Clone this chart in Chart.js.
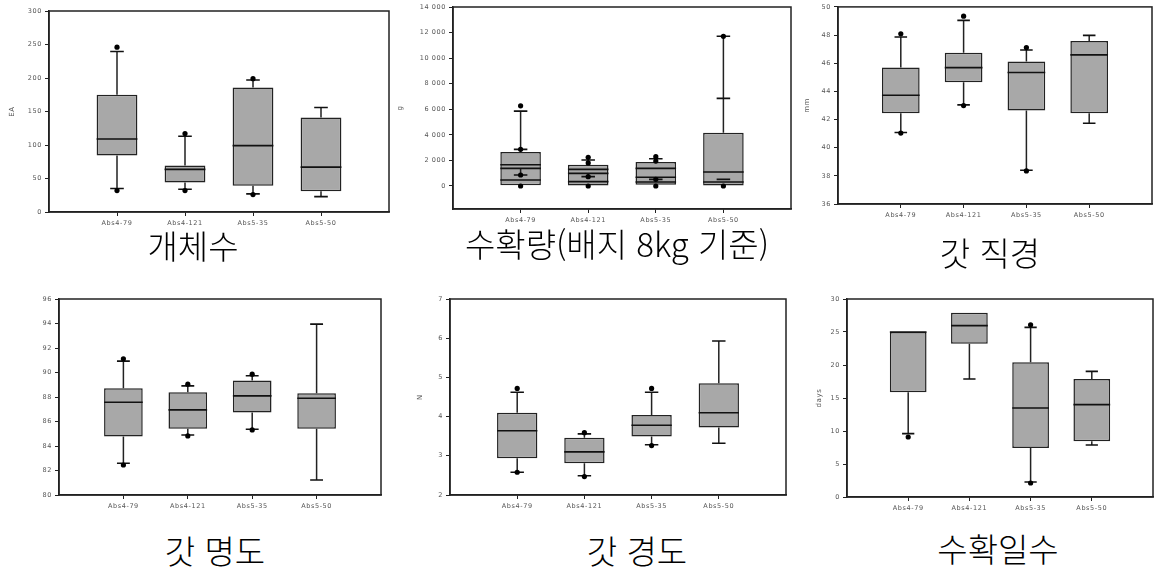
<!DOCTYPE html>
<html lang="ko">
<head>
    <meta charset="UTF-8">
    <title>Box plots</title>
    <script src="https://cdn.jsdelivr.net/npm/chart.js"></script>
    <style>
        body { margin: 0; width: 1157px; height: 567px; background: #fff; position: relative; overflow: hidden; }
        canvas { position: absolute; }
        .title { position: absolute; transform: translate(-50%, -50%); font-family: "Noto Sans CJK KR", sans-serif; font-size: 33px; font-weight: 300; color: #000; white-space: nowrap; }
    </style>
</head>
<body>
    <canvas id="c1" width="395" height="235" style="left:0;top:0"></canvas>
    <canvas id="c2" width="400" height="235" style="left:395px;top:0"></canvas>
    <canvas id="c3" width="359" height="235" style="left:798px;top:0"></canvas>
    <canvas id="c4" width="395" height="240" style="left:0;top:280px"></canvas>
    <canvas id="c5" width="403" height="240" style="left:395px;top:280px"></canvas>
    <canvas id="c6" width="357" height="240" style="left:800px;top:280px"></canvas>
    <div class="title" style="left:193px;top:245px">개체수</div>
    <div class="title" style="left:617px;top:243px">수확량(배지 8kg 기준)</div>
    <div class="title" style="left:990px;top:252px">갓 직경</div>
    <div class="title" style="left:215px;top:550px">갓 명도</div>
    <div class="title" style="left:637px;top:550px">갓 경도</div>
    <div class="title" style="left:998px;top:548px">수확일수</div>
    <script>
        const categories = ['Abs4-79', 'Abs4-121', 'Abs5-35', 'Abs5-50'];

        // 개체수 (EA)
        const countTicks = [0, 50, 100, 150, 200, 250, 300];
        const countQ1 = [84.5, 44, 39, 31];
        const countMedian = [109, 63.6, 99, 67];
        const countQ3 = [175, 69.5, 186, 141];
        const countLow = [35, 34, 27, 23];
        const countHigh = [239.5, 113, 197, 156];
        const countDots = [[246, 32], [117, 32], [199, 26], []];

        // 수확량 (g) - overlapping boxes
        const yieldTicks = [0, 2000, 4000, 6000, 8000, 10000, 12000, 14000];
        const yieldQ1 = [50, 0, 100, 30];
        const yieldQ3 = [2655, 1665, 1875, 4165];
        const yieldLines = [[1665, 1380, 470], [1300, 990, 340], [1380, 680, 310], [1090, 310]];
        const yieldWhiskers = [[[2655, 5856], [1380, 860]], [[1665, 2030], [990, 730]], [[1875, 2130], [680, 520]], [[4165, 11710]]];
        const yieldCaps = [[5856, 2865, 860], [2030, 730], [2130, 520], [6850, 11710, 520]];
        const yieldDots = [[6270, 2865, 860, 0], [2240, 1800, 730, 0], [2290, 1950, 520, 0], [11710, 0]];

        // 갓 직경 (mm)
        const diamTicks = [36, 38, 40, 42, 44, 46, 48, 50];
        const diamQ1 = [42.45, 44.64, 42.64, 42.45];
        const diamMedian = [43.72, 45.69, 45.34, 46.59];
        const diamQ3 = [45.69, 46.75, 46.12, 47.58];
        const diamLow = [41.08, 43.04, 38.4, 41.74];
        const diamHigh = [47.86, 49.04, 46.94, 47.98];
        const diamDots = [[48.09, 41.04], [49.34, 42.99], [47.11, 38.35], []];

        // 갓 명도
        const lightTicks = [80, 82, 84, 86, 88, 90, 92, 94, 96];
        const lightQ1 = [84.77, 85.40, 86.73, 85.40];
        const lightMedian = [87.57, 86.95, 88.09, 87.90];
        const lightQ3 = [88.72, 88.39, 89.35, 88.31];
        const lightLow = [82.59, 84.90, 85.37, 81.23];
        const lightHigh = [90.93, 88.91, 89.73, 93.95];
        const lightDots = [[91.12, 82.45], [89.05, 84.82], [89.86, 85.31], []];

        // 갓 경도 (N)
        const hardTicks = [2, 3, 4, 5, 6, 7];
        const hardQ1 = [2.94, 2.81, 3.49, 3.72];
        const hardMedian = [3.64, 3.10, 3.78, 4.10];
        const hardQ3 = [4.10, 3.46, 4.04, 4.85];
        const hardLow = [2.58, 2.49, 3.28, 3.32];
        const hardHigh = [4.62, 3.56, 4.62, 5.93];
        const hardDots = [[4.72, 2.58], [3.59, 2.47], [4.72, 3.26], []];

        // 수확일수 (days)
        const daysTicks = [0, 5, 10, 15, 20, 25, 30];
        const daysQ1 = [15.86, 23.23, 7.42, 8.43];
        const daysMedian = [25.0, 25.96, 13.48, 13.99];
        const daysQ3 = [25.0, 27.9, 20.4, 17.88];
        const daysLow = [9.6, 17.88, 2.27, 7.88];
        const daysHigh = [null, null, 25.7, 19.04];
        const daysDots = [[9.09], [], [26.1, 2.12], []];

        const BOX_HALF = 0.3;   // half box width in category units
        const CAP_HALF = 0.1;   // half cap width

        function simpleBox(q1, median, q3, low, high, dots) {
            return {
                q1, q3, dots,
                lines: median.map(m => [m]),
                whiskers: q1.map((v, i) => [[v, low[i]], [q3[i], high[i]]].filter(w => w[1] != null)),
                caps: low.map((v, i) => [v, high[i]].filter(c => c != null))
            };
        }

        // draws the closed frame round the plot area
        const framePlugin = {
            id: 'frame',
            beforeDraw(chart) { chart.ctx.letterSpacing = '0.6px'; },
            afterDraw(chart) {
                const { ctx, chartArea: a } = chart;
                ctx.save();
                ctx.strokeStyle = '#222';
                ctx.lineWidth = 1.5;
                ctx.strokeRect(a.left, a.top, a.right - a.left, a.bottom - a.top);
                ctx.restore();
            }
        };

        function makeBoxChart(id, box, o) {
            const segs = [], marks = [], dots = [];
            box.q1.forEach((v, i) => {
                const x = i + 1;
                box.whiskers[i].forEach(([a, b]) => segs.push({ x, y: a }, { x, y: b }, { x, y: null }));
                box.lines[i].forEach(m => marks.push({ x: x - BOX_HALF, y: m }, { x: x + BOX_HALF, y: m }, { x, y: null }));
                box.caps[i].forEach(c => marks.push({ x: x - CAP_HALF, y: c }, { x: x + CAP_HALF, y: c }, { x, y: null }));
                box.dots[i].forEach(d => dots.push({ x, y: d }));
            });

            const tickFont = { family: 'DejaVu Sans', size: 6.5 };
            new Chart(document.getElementById(id), {
                type: 'bar',
                data: {
                    datasets: [
                        {
                            type: 'bar',
                            data: box.q1.map((v, i) => ({ x: i + 1, y: [v, box.q3[i]] })),
                            backgroundColor: '#a8a8a8',
                            borderColor: '#222',
                            borderWidth: 1.5,
                            borderSkipped: false,
                            barPercentage: 0.6,
                            categoryPercentage: 1,
                            order: 3
                        },
                        { type: 'line', data: segs, borderColor: '#222', borderWidth: 1.5, pointRadius: 0, order: 2 },
                        { type: 'line', data: marks, borderColor: '#111', borderWidth: 1.6, pointRadius: 0, order: 1 },
                        { type: 'line', data: dots, showLine: false, pointRadius: 2.6, pointBackgroundColor: '#000', pointBorderWidth: 0, order: 0 }
                    ]
                },
                options: {
                    responsive: false,
                    animation: false,
                    layout: { padding: { top: o.padTop, right: o.padRight, left: 0, bottom: 0 } },
                    plugins: { legend: { display: false }, tooltip: { enabled: false } },
                    scales: {
                        x: {
                            type: 'linear', min: 0, max: 5, offset: false,
                            afterBuildTicks: s => { s.ticks = categories.map((c, i) => ({ value: i + 1 })); },
                            afterFit: s => { s.height = o.xHeight; },
                            ticks: { callback: v => categories[v - 1], font: tickFont, color: '#555', padding: 3, maxRotation: 0 },
                            grid: { drawOnChartArea: false, tickLength: 4, color: '#222', offset: false },
                            border: { color: '#222', width: 1.5 }
                        },
                        y: {
                            min: o.min, max: o.max,
                            afterBuildTicks: s => { s.ticks = o.ticks.map(v => ({ value: v })); },
                            afterFit: s => { s.width = o.yWidth; },
                            ticks: { callback: o.fmt || (v => v), font: tickFont, color: '#555', padding: 3 },
                            grid: { drawOnChartArea: false, tickLength: 4, color: '#222' },
                            border: { color: '#222', width: 1.5 },
                            title: {
                                display: !!o.unit, text: o.unit, color: '#555',
                                font: { family: 'DejaVu Sans', size: 7 },
                                padding: { top: o.titlePad, bottom: 0 }
                            }
                        }
                    }
                },
                plugins: [framePlugin]
            });
        }

        const spaced = v => String(v).replace(/\B(?=(\d{3})+(?!\d))/g, ' ');

        makeBoxChart('c1', simpleBox(countQ1, countMedian, countQ3, countLow, countHigh, countDots),
            { min: 0, max: 300, ticks: countTicks, unit: 'EA', padTop: 11, padRight: 6, yWidth: 49, xHeight: 23, titlePad: 8 });

        makeBoxChart('c2', { q1: yieldQ1, q3: yieldQ3, lines: yieldLines, whiskers: yieldWhiskers, caps: yieldCaps, dots: yieldDots },
            { min: -1800, max: 14000, ticks: yieldTicks, fmt: spaced, unit: 'g', padTop: 7, padRight: 2, yWidth: 58, xHeight: 26, titlePad: 1 });

        makeBoxChart('c3', simpleBox(diamQ1, diamMedian, diamQ3, diamLow, diamHigh, diamDots),
            { min: 36, max: 50, ticks: diamTicks, unit: 'mm', padTop: 6, padRight: 5, yWidth: 40, xHeight: 31, titlePad: 5 });

        makeBoxChart('c4', simpleBox(lightQ1, lightMedian, lightQ3, lightLow, lightHigh, lightDots),
            { min: 80, max: 96, ticks: lightTicks, unit: '', padTop: 19, padRight: 14, yWidth: 59, xHeight: 25, titlePad: 0 });

        makeBoxChart('c5', simpleBox(hardQ1, hardMedian, hardQ3, hardLow, hardHigh, hardDots),
            { min: 2, max: 7, ticks: hardTicks, unit: 'N', padTop: 19, padRight: 12, yWidth: 55, xHeight: 25, titlePad: 21 });

        makeBoxChart('c6', simpleBox(daysQ1, daysMedian, daysQ3, daysLow, daysHigh, daysDots),
            { min: 0, max: 30, ticks: daysTicks, unit: 'days', padTop: 19, padRight: 1, yWidth: 47, xHeight: 23, titlePad: 15 });
    </script>
</body>
</html>
